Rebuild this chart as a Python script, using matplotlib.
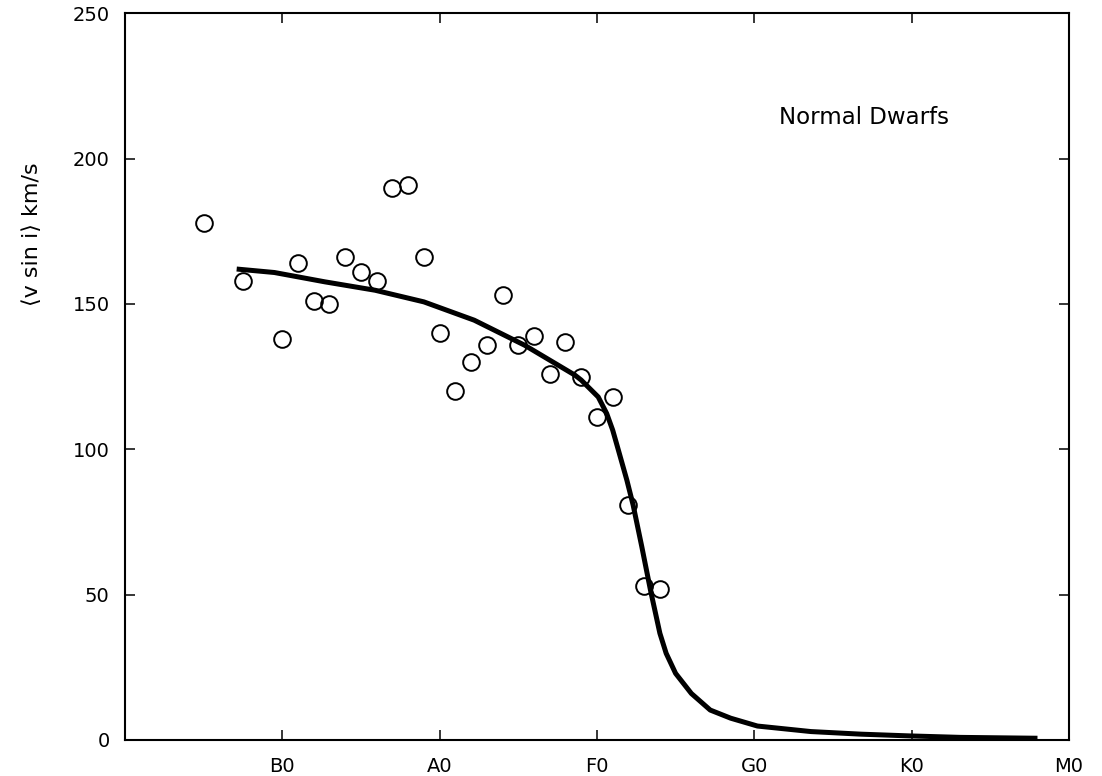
import numpy as np
import matplotlib
matplotlib.use('Agg')
import matplotlib.pyplot as plt

plt.rcParams['font.family'] = ['DejaVu Sans']

# spectral type axis: B0=1, A0=2, F0=3, G0=4, K0=5, M0=6
tick_pos = [1, 2, 3, 4, 5, 6]
tick_labels = ['B0', 'A0', 'F0', 'G0', 'K0', 'M0']

# observed mean v sin i (open circles)
obs_type = [0.5, 0.75, 1.0, 1.1, 1.2, 1.3, 1.4, 1.5, 1.6, 1.7, 1.8, 1.9, 2.0, 2.1,
            2.2, 2.3, 2.4, 2.5, 2.6, 2.7, 2.8, 2.9, 3.0, 3.1, 3.2, 3.3, 3.4]
obs_vsini = [178, 158, 138, 164, 151, 150, 166, 161, 158, 190, 191, 166, 140, 120,
             130, 136, 153, 136, 139, 126, 137, 125, 111, 118, 81, 53, 52]

# smooth curve
curve_type = [0.71, 0.95, 1.27, 1.59, 1.9, 2.22, 2.54, 2.86, 2.90, 3.008, 3.062, 3.10,
              3.13, 3.19, 3.23, 3.285, 3.34, 3.40, 3.44, 3.50, 3.60, 3.72, 3.85,
              4.02, 4.36, 4.68, 4.99, 5.31, 5.80]
curve_vsini = [162, 160.8, 157.6, 154.7, 150.7, 144.4, 135.8, 125.5, 123.8, 118.0,
               112.3, 106.6, 100.9, 89.4, 80.8, 66.5, 51.6, 36.7, 29.8, 22.9, 16.0,
               10.3, 7.5, 4.8, 2.9, 2.0, 1.4, 0.9, 0.6]

fig = plt.figure(figsize=(11.02, 7.76), dpi=100)
ax = fig.add_axes([0.1134, 0.0464, 0.8566, 0.9366])

ax.plot(curve_type, curve_vsini, color='black', lw=3.6, solid_capstyle='butt',
        solid_joinstyle='round', zorder=3)
ax.plot(obs_type, obs_vsini, linestyle='none', marker='o', ms=12,
        mfc='none', mec='black', mew=1.4, zorder=4)

ax.set_xlim(0, 6)
ax.set_ylim(0, 250)
ax.set_xticks(tick_pos)
ax.set_xticklabels(tick_labels)
ax.set_yticks([0, 50, 100, 150, 200, 250])

ax.tick_params(direction='in', length=7, width=1.1, top=True, right=True,
               labelsize=14)
ax.tick_params(axis='x', pad=12)
ax.tick_params(axis='y', pad=11)
for s in ax.spines.values():
    s.set_linewidth(1.5)

fig.text(32 / 1102, 1 - 234 / 776, '⟨v sin i⟩ km/s', rotation=90,
         ha='center', va='center', fontsize=16)
ax.text(4.7, 214, 'Normal Dwarfs', ha='center', va='center', fontsize=16.5)

fig.savefig('out.png', dpi=100)
